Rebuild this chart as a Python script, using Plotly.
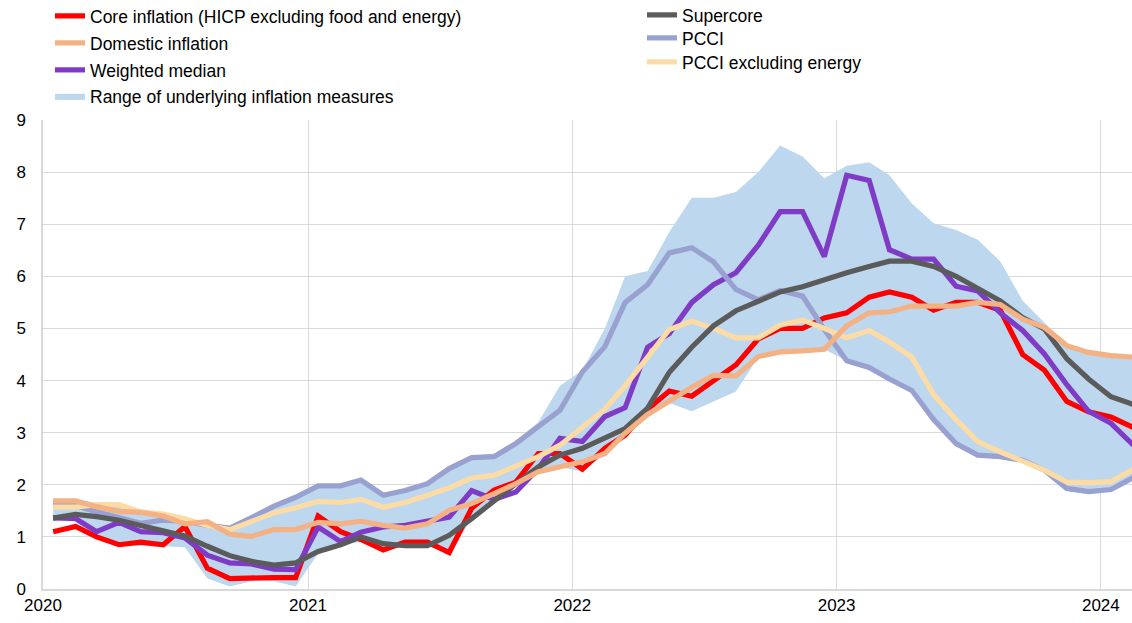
import plotly.graph_objects as go

# Monthly observations, Jan 2020 - Feb 2024 (plotted mid-month)
months = [f"{y}-{m:02d}-15" for y in range(2020, 2025) for m in range(1, 13)][:50]

core = [1.1, 1.2, 1.0, 0.85, 0.9, 0.85, 1.2, 0.4, 0.2, 0.22, 0.22, 0.22,
        1.4, 1.1, 0.95, 0.75, 0.9, 0.9, 0.7, 1.55, 1.9, 2.05, 2.6, 2.6,
        2.3, 2.7, 2.95, 3.45, 3.8, 3.7, 4.0, 4.3, 4.8, 5.0, 5.0, 5.2,
        5.3, 5.6, 5.7, 5.6, 5.35, 5.5, 5.5, 5.35, 4.5, 4.2, 3.6, 3.4,
        3.3, 3.1]
domestic = [1.69, 1.69, 1.58, 1.49, 1.47, 1.4, 1.25, 1.29, 1.05, 1.01, 1.14, 1.14,
            1.28, 1.25, 1.3, 1.22, 1.17, 1.25, 1.51, 1.64, 1.83, 2.02, 2.25, 2.34,
            2.44, 2.6, 2.99, 3.35, 3.62, 3.87, 4.1, 4.09, 4.46, 4.55, 4.57, 4.6,
            5.05, 5.3, 5.32, 5.43, 5.43, 5.43, 5.5, 5.46, 5.18, 5.02, 4.67, 4.54,
            4.48, 4.45]
weighted_median = [1.37, 1.35, 1.1, 1.28, 1.1, 1.08, 0.98, 0.65, 0.5, 0.48, 0.38, 0.37,
                   1.19, 0.91, 1.09, 1.19, 1.22, 1.3, 1.38, 1.89, 1.72, 1.86, 2.31, 2.89,
                   2.83, 3.31, 3.48, 4.64, 4.9, 5.5, 5.84, 6.07, 6.6, 7.24, 7.24, 6.38,
                   7.94, 7.84, 6.51, 6.33, 6.33, 5.81, 5.72, 5.3, 4.96, 4.51, 3.92, 3.41,
                   3.18, 2.76]
supercore = [1.36, 1.43, 1.39, 1.32, 1.22, 1.13, 1.02, 0.82, 0.64, 0.53, 0.46, 0.5,
             0.72, 0.85, 1.0, 0.87, 0.83, 0.83, 1.03, 1.35, 1.7, 2.02, 2.34, 2.57,
             2.7, 2.89, 3.08, 3.47, 4.16, 4.64, 5.05, 5.34, 5.53, 5.7, 5.8, 5.94,
             6.07, 6.19, 6.29, 6.29, 6.19, 6.0, 5.78, 5.53, 5.21, 4.99, 4.42, 4.03,
             3.69, 3.54]
pcci = [1.66, 1.6, 1.48, 1.38, 1.26, 1.32, 1.3, 1.22, 1.17, 1.37, 1.59, 1.76,
        1.98, 1.98, 2.09, 1.8, 1.89, 2.02, 2.31, 2.52, 2.54, 2.79, 3.11, 3.43,
        4.17, 4.65, 5.5, 5.84, 6.45, 6.55, 6.28, 5.75, 5.55, 5.73, 5.62, 4.98,
        4.38, 4.25, 4.03, 3.81, 3.25, 2.79, 2.57, 2.54, 2.47, 2.28, 1.93, 1.87,
        1.91, 2.14]
pcci_ex_energy = [1.57, 1.57, 1.62, 1.62, 1.48, 1.44, 1.35, 1.22, 1.14, 1.3, 1.46, 1.56,
                  1.68, 1.66, 1.72, 1.57, 1.66, 1.8, 1.94, 2.13, 2.18, 2.36, 2.54, 2.76,
                  3.12, 3.45, 3.9, 4.45, 4.98, 5.14, 5.0, 4.82, 4.82, 5.06, 5.16, 5.0,
                  4.82, 4.96, 4.74, 4.45, 3.73, 3.25, 2.83, 2.63, 2.44, 2.28, 2.05, 2.04,
                  2.06, 2.3]
range_low = [1.3, 1.3, 0.95, 0.85, 0.82, 0.82, 0.8, 0.2, 0.05, 0.15, 0.15, 0.05,
             0.68, 0.85, 0.9, 0.72, 0.82, 0.82, 0.68, 1.35, 1.7, 2.0, 2.25, 2.34,
             2.25, 2.6, 2.95, 3.35, 3.57, 3.41, 3.6, 3.79, 4.45, 4.54, 4.56, 4.6,
             4.38, 4.25, 4.03, 3.81, 3.25, 2.79, 2.57, 2.54, 2.44, 2.28, 1.92, 1.87,
             1.91, 2.12]
range_high = [1.72, 1.72, 1.65, 1.6, 1.5, 1.45, 1.35, 1.3, 1.18, 1.4, 1.6, 1.8,
              2.0, 2.0, 2.1, 1.85, 1.9, 2.05, 2.35, 2.55, 2.6, 2.85, 3.2, 3.9,
              4.2, 5.0, 6.0, 6.1, 6.85, 7.51, 7.51, 7.62, 8.0, 8.51, 8.3, 7.88,
              8.12, 8.19, 7.94, 7.4, 7.02, 6.89, 6.7, 6.29, 5.53, 5.11, 4.7, 4.58,
              4.5, 4.47]

year_ticks = ["2020-01-01", "2021-01-01", "2022-01-01", "2023-01-01", "2024-01-01"]
year_labels = ["2020", "2021", "2022", "2023", "2024"]
y_ticks = list(range(0, 10))

FONT = "Liberation Sans, Arial, sans-serif"
LW = 5.2
W, H = 1132, 623

fig = go.Figure()
fig.add_trace(go.Scatter(x=months, y=range_low, mode="lines", line=dict(width=0),
                         showlegend=False, hoverinfo="skip"))
fig.add_trace(go.Scatter(x=months, y=range_high, mode="lines", line=dict(width=0),
                         fill="tonexty", fillcolor="#BDD7EE",
                         name="Range of underlying inflation measures",
                         legend="legend4"))

# (name, values, colour, legend id) in drawing order
series = [
    ("Core inflation (HICP excluding food and energy)", core, "#FF0000", "legend"),
    ("Weighted median", weighted_median, "#7F3AC6", "legend3"),
    ("PCCI", pcci, "#98A1CF", "legend6"),
    ("PCCI excluding energy", pcci_ex_energy, "#FDDBA4", "legend7"),
    ("Supercore", supercore, "#5B5B5B", "legend5"),
    ("Domestic inflation", domestic, "#F4B183", "legend2"),
]
for name, vals, col, leg in series:
    fig.add_trace(go.Scatter(x=months, y=vals, mode="lines", name=name,
                             line=dict(color=col, width=LW), legend=leg))

# legend placement: (legend id, text-left x px, row centre y px)
legend_pos = [("legend", 90, 16), ("legend2", 90, 43), ("legend3", 90, 70),
              ("legend4", 90, 96), ("legend5", 682, 15), ("legend6", 682, 38),
              ("legend7", 682, 62)]
legend_layout = {}
for lid, tx, ty in legend_pos:
    legend_layout[lid] = dict(xref="container", yref="container",
                              x=(tx - 40) / W, y=1 - ty / H,
                              xanchor="left", yanchor="middle",
                              bgcolor="rgba(0,0,0,0)", font=dict(size=17.5))

fig.update_layout(
    width=W, height=H,
    margin=dict(l=43, r=0, t=119.5, b=33.5, autoexpand=False),
    paper_bgcolor="white", plot_bgcolor="white",
    font=dict(family=FONT, size=17.5, color="#000000"),
    xaxis=dict(type="date", range=["2020-01-01", "2024-02-13"],
               tickvals=year_ticks, ticktext=year_labels,
               showgrid=True, gridcolor="#D9D9D9", gridwidth=1,
               showline=True, linecolor="#D9D9D9", linewidth=1.5,
               ticks="", zeroline=False, tickfont=dict(size=17)),
    yaxis=dict(range=[0, 9], tickvals=y_ticks,
               showgrid=True, gridcolor="#D9D9D9", gridwidth=1,
               showline=True, linecolor="#D9D9D9", linewidth=1.5,
               ticks="", zeroline=False, ticklabelstandoff=12,
               tickfont=dict(size=17)),
    **legend_layout,
)

fig.write_html("out.html", config={"displayModeBar": False},
               post_script="document.body.style.margin='0';")
